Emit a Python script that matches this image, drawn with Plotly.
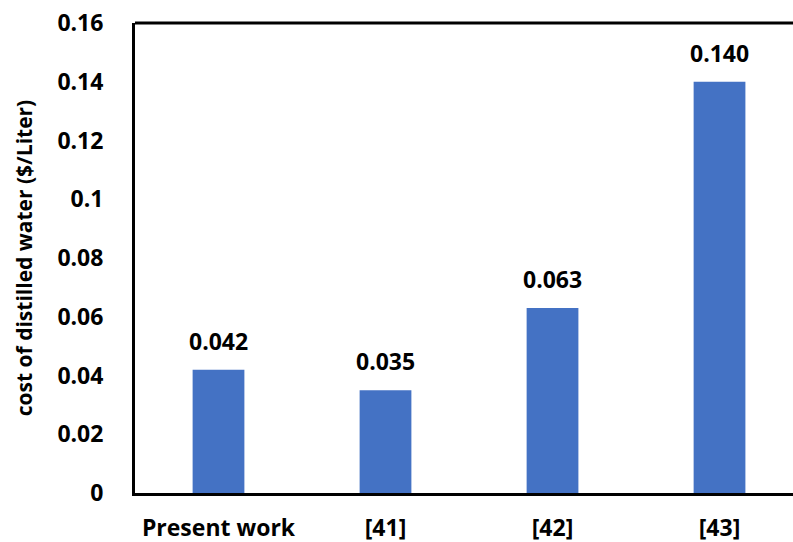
import plotly.graph_objects as go

# Cost of distilled water per study
categories = ["Present work", "[41]", "[42]", "[43]"]
cost_per_liter = [0.042, 0.035, 0.063, 0.140]
y_ticks = [0, 0.02, 0.04, 0.06, 0.08, 0.1, 0.12, 0.14, 0.16]
y_tick_text = ["0", "0.02", "0.04", "0.06", "0.08", "0.1", "0.12", "0.14", "0.16"]

FONT = "Open Sans"
BAR_COLOR = "#4472C4"

fig = go.Figure()
fig.add_trace(go.Bar(
    x=list(range(len(categories))),
    y=cost_per_liter,
    width=0.31,
    marker=dict(color=BAR_COLOR, line=dict(width=0)),
    hoverinfo="skip",
))

# value labels above each bar
for i, v in enumerate(cost_per_liter):
    fig.add_annotation(
        x=i, y=v, xref="x", yref="y",
        text=f"{v:.3f}",
        showarrow=False, yanchor="bottom", yshift=11,
        font=dict(family=FONT, size=23, color="black", weight="bold"),
    )

# top border line of the plot frame
fig.add_shape(type="line", xref="paper", yref="paper",
              x0=0, x1=1, y0=1, y1=1,
              line=dict(color="black", width=3))

fig.update_layout(
    width=793, height=542,
    margin=dict(l=135, r=0, t=23, b=49),
    paper_bgcolor="white", plot_bgcolor="white",
    showlegend=False,
    font=dict(family=FONT, color="black"),
    xaxis=dict(
        range=[-0.5, 3.44],
        tickmode="array",
        tickvals=list(range(len(categories))),
        ticktext=categories,
        tickfont=dict(family=FONT, size=23, color="black", weight="bold"),
        showline=True, linecolor="black", linewidth=3,
        showgrid=False, zeroline=False, ticks="",
        ticklabelstandoff=12,
    ),
    yaxis=dict(
        range=[0, 0.16],
        tickmode="array",
        tickvals=y_ticks,
        ticktext=y_tick_text,
        tickfont=dict(family=FONT, size=23, color="black", weight="bold"),
        showline=True, linecolor="black", linewidth=3,
        showgrid=False, zeroline=False, ticks="",
        ticklabelstandoff=24,
        title=dict(text="cost of distilled water ($/Liter)",
                   font=dict(family=FONT, size=21, color="black", weight="bold"),
                   standoff=20),
    ),
)

fig.write_html("out.html")
